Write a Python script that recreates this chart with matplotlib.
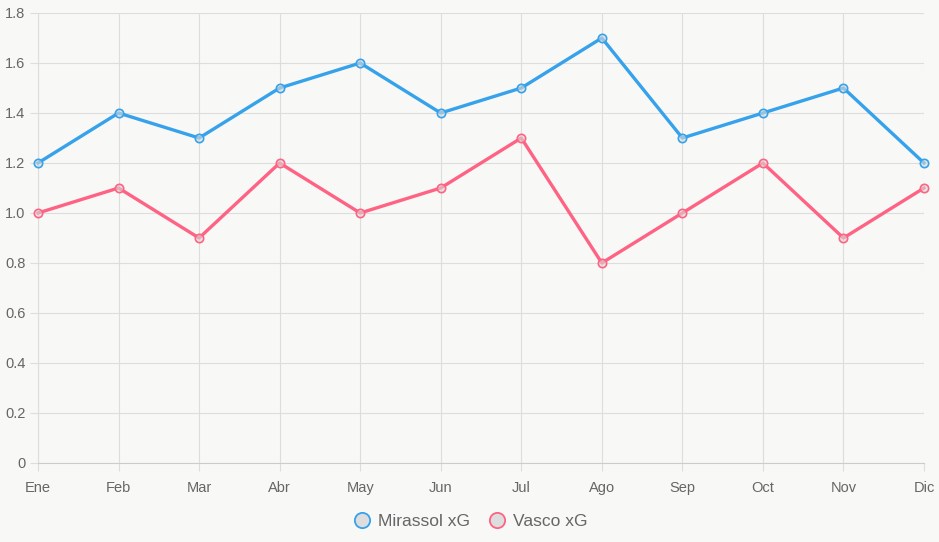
import numpy as np
import matplotlib.pyplot as plt
from matplotlib.lines import Line2D

months = ['Ene', 'Feb', 'Mar', 'Abr', 'May', 'Jun', 'Jul', 'Ago', 'Sep', 'Oct', 'Nov', 'Dic']
mirassol = [1.2, 1.4, 1.3, 1.5, 1.6, 1.4, 1.5, 1.7, 1.3, 1.4, 1.5, 1.2]
vasco = [1.0, 1.1, 0.9, 1.2, 1.0, 1.1, 1.3, 0.8, 1.0, 1.2, 0.9, 1.1]

blue = '#36a2eb'
pink = '#ff6384'
bg = '#f8f8f6'
grid = '#dddddd'
txt = '#666666'

plt.rcParams['font.family'] = ['Liberation Sans', 'DejaVu Sans']

fig = plt.figure(figsize=(9.39, 5.42), dpi=100, facecolor=bg)
ax = fig.add_axes([38/939, 1 - 463/542, (924 - 38)/939, (463 - 13)/542])
ax.set_facecolor(bg)

x = np.arange(len(months))
for vals, c in [(mirassol, blue), (vasco, pink)]:
    ax.plot(x, vals, color=c, lw=2.4, zorder=3, clip_on=False,
            marker='o', ms=6, mfc=(0.85, 0.85, 0.85, 0.6), mec=c, mew=1.2)

ax.set_xlim(0, len(months) - 1)
ax.set_ylim(0, 1.8)
ax.set_xticks(x)
ax.set_xticklabels(months)
ax.set_yticks(np.arange(0, 1.81, 0.2))
ax.set_yticklabels(['0'] + ['%.1f' % v for v in np.arange(0.2, 1.81, 0.2)])
ax.grid(True, color=grid, lw=0.8)
ax.set_axisbelow(True)
for s in ax.spines.values():
    s.set_visible(False)
ax.spines['bottom'].set_visible(True)
ax.spines['bottom'].set_color('#cccccc')
ax.spines['left'].set_visible(True)
ax.spines['left'].set_color(grid)
ax.tick_params(colors=txt, labelsize=10.5, length=6, width=0.8, pad=3)
ax.tick_params(axis='x', pad=7)
ax.tick_params(axis='both', color=grid)

handles = [Line2D([], [], ls='none', marker='o', ms=11, mfc='#dddddd', mec=blue, mew=1.3),
           Line2D([], [], ls='none', marker='o', ms=11, mfc='#dddddd', mec=pink, mew=1.3)]
fig.legend(handles, ['Mirassol xG', 'Vasco xG'], loc='lower center', bbox_to_anchor=(0.5, -0.005),
           ncol=2, frameon=False, fontsize=12.5, labelcolor=txt, handletextpad=0.3,
           columnspacing=1.0, handlelength=1.2)

fig.savefig('out.png', dpi=100, facecolor=bg)
